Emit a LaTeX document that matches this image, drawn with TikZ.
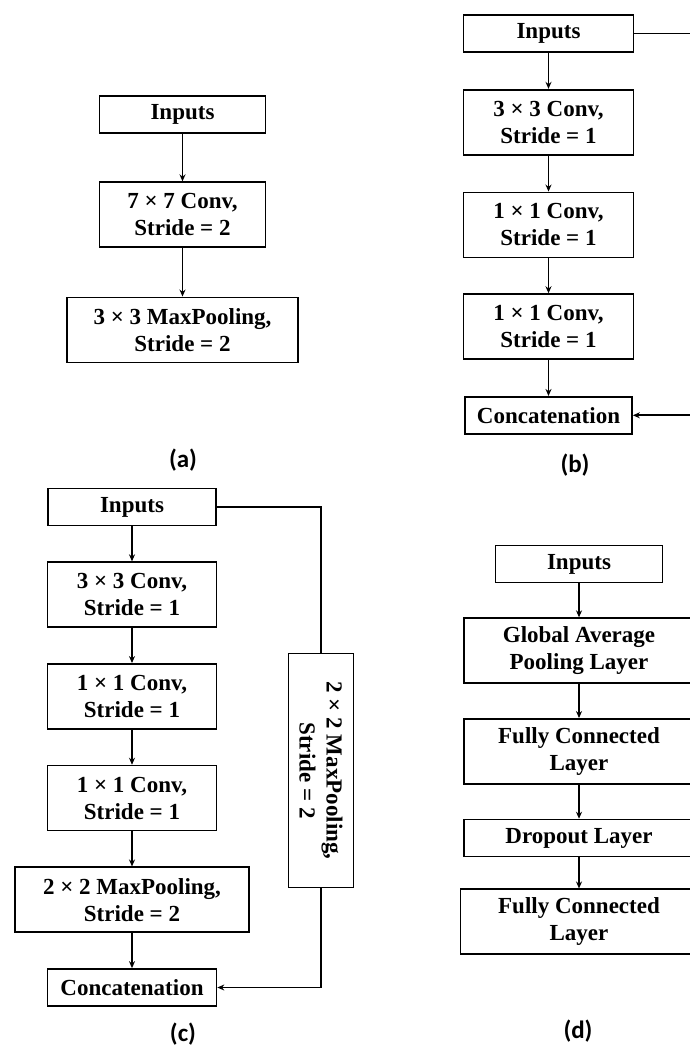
\documentclass[tikz,border=0pt]{standalone}
\usepackage{fontspec}
\setmainfont{Liberation Serif}
\newfontfamily\capfont{Carlito}
\usetikzlibrary{arrows.meta,positioning}

\begin{document}
\begin{tikzpicture}[x=1pt,y=-1pt,>={Stealth[length=7pt,width=6pt]},line width=1.7pt,node distance=35pt,
    box/.style={draw,line width=1.7pt,font=\fontsize{23}{27}\selectfont\bfseries,align=center,minimum height=37pt,inner sep=2pt},
    tall/.style={box,minimum height=65pt},
    sublabel/.style={font=\fontsize{25}{30}\selectfont\capfont\bfseries,inner sep=0pt}]
    \useasboundingbox (0,0) rectangle (689,1048);

    % (a)
    \node[box,minimum width=166pt]  (ain)   at (182.5,114.5)      {Inputs};
    \node[tall,minimum width=166pt] (aconv) [below=47.5pt of ain]   {7 × 7 Conv,\\Stride = 2};
    \node[tall,minimum width=231pt] (apool) [below=48.5pt of aconv] {3 × 3 MaxPooling,\\Stride = 2};
    \node[sublabel]                 (acap)  at (183,460)          {(a)};

    % (b)
    \node[box,minimum width=170pt]  (bin)   at (548.5,33.5)       {Inputs};
    \node[tall,minimum width=170pt] (bconv) [below=36pt of bin]   {3 × 3 Conv,\\Stride = 1};
    \node[tall,minimum width=170pt] (bone)  [below=36pt of bconv] {1 × 1 Conv,\\Stride = 1};
    \node[tall,minimum width=170pt] (btwo)  [below=35pt of bone]  {1 × 1 Conv,\\Stride = 1};
    \node[box,minimum width=167pt]  (bcat)  [below=36pt of btwo]  {Concatenation};
    \coordinate                     (bside) at (700,0);
    \node[sublabel]                 (bcap)  at (575,465)          {(b)};

    % (c)
    \node[box,minimum width=168pt]  (cin)   at (132,507)          {Inputs};
    \node[tall,minimum width=169pt] (cconv) [below=of cin]        {3 × 3 Conv,\\Stride = 1};
    \node[tall,minimum width=169pt] (cone)  [below=of cconv]      {1 × 1 Conv,\\Stride = 1};
    \node[tall,minimum width=169pt] (ctwo)  [below=of cone]       {1 × 1 Conv,\\Stride = 1};
    \node[tall,minimum width=234pt] (cpool) [below=of ctwo]       {2 × 2 MaxPooling,\\Stride = 2};
    \node[box,minimum width=169pt]  (ccat)  [below=of cpool]      {Concatenation};
    \node[box,rotate=-90,minimum width=234pt,minimum height=65pt]
                                    (cside) at (321,770.5)        {2 × 2 MaxPooling,\\Stride = 2};
    \node[sublabel]                 (ccap)  at (183,1034)         {(c)};

    % (d)
    \node[box,minimum width=167pt]  (din)   at (579,564)          {Inputs};
    \node[tall,minimum width=230pt] (dgap)  [below=34pt of din]   {Global Average\\Pooling Layer};
    \node[tall,minimum width=230pt] (dfc)   [below=34pt of dgap]  {Fully Connected\\Layer};
    \node[box,minimum width=230pt]  (ddrop) [below=34pt of dfc]   {Dropout Layer};
    \node[tall,minimum width=237pt] (dout)  [below=31pt of ddrop] {Fully Connected\\Layer};
    \node[sublabel]                 (dcap)  at (578,1031)         {(d)};

    \draw[->] (ain) edge (aconv)
              (aconv) edge (apool)
              (bin) edge (bconv)
              (bconv) edge (bone)
              (bone) edge (btwo)
              (btwo) edge (bcat)
              (cin) edge (cconv)
              (cconv) edge (cone)
              (cone) edge (ctwo)
              (ctwo) edge (cpool)
              (cpool) edge (ccat)
              (din) edge (dgap)
              (dgap) edge (dfc)
              (dfc) edge (ddrop)
              (ddrop) edge (dout);

    % skip paths
    \draw[->] (bin.east) -- (bin.east -| bside) -- (bside |- bcat.east) -- (bcat.east);
    \draw (cin.east) -| (cside.west);
    \draw[->] (cside.east) |- (ccat.east);
\end{tikzpicture}
\end{document}
